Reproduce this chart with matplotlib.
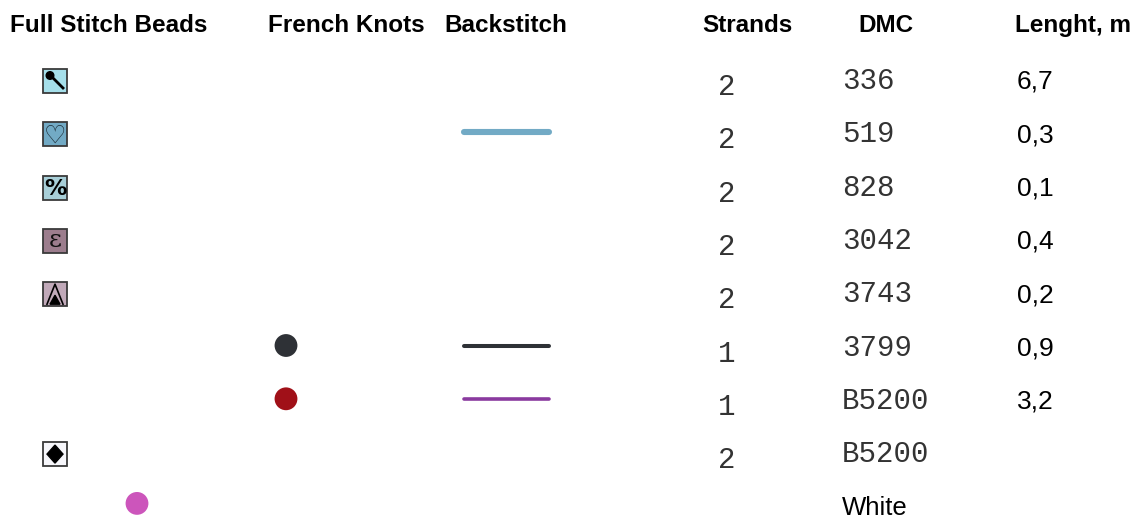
import matplotlib
matplotlib.use('Agg')
import matplotlib.pyplot as plt
from matplotlib.patches import Rectangle, Polygon, Circle

# ---- data ----
headers = ['Full Stitch Beads', 'French Knots', 'Backstitch', 'Strands', 'DMC', 'Lenght, m']
bead_colors = ['#a5dfea', '#72aac5', '#a8cfd8', '#9c7d8d', '#c1a9b9', None, None, '#f7f7fb', None]
bead_symbols = ['pin', 'heart', 'percent', 'epsilon', 'triangle', None, None, 'diamond', None]
seed_bead_colors = [None] * 8 + ['#cc55bb']
knot_colors = [None] * 5 + ['#2e3136', '#a01018', None, None]
backstitch_colors = [None, '#72aac5', None, None, None, '#2e3136', '#8a3a9f', None, None]
backstitch_widths = [0, 4.4, 0, 0, 0, 2.9, 2.6, 0, 0]
strands = ['2', '2', '2', '2', '2', '1', '1', '2', '']
dmc = ['336', '519', '828', '3042', '3743', '3799', 'B5200', 'B5200', 'White']
lengths = ['6,7', '0,3', '0,1', '0,4', '0,2', '0,9', '3,2', '', '']

W, H = 1138, 523
fig = plt.figure(figsize=(W / 100, H / 100), dpi=100)
ax = fig.add_axes([0, 0, 1, 1])
ax.set_xlim(0, W)
ax.set_ylim(H, 0)
ax.axis('off')

sans = 'Liberation Sans'
mono = 'Liberation Mono'

# header row
head_x = [10, 268, 444, 747, 886, 1015]
head_ha = ['left', 'left', 'left', 'center', 'center', 'left']
for hx, ha, label in zip(head_x, head_ha, headers):
    ax.text(hx, 32, label, ha=ha, va='baseline', fontsize=17.5,
            fontweight='bold', family=sans, color='black')

row_y = [81 + 53.3 * i for i in range(len(dmc))]
sq = 24
bead_x = 55

for y, col, sym in zip(row_y, bead_colors, bead_symbols):
    if col is None:
        continue
    ax.add_patch(Rectangle((bead_x - sq / 2, y - sq / 2), sq, sq, facecolor=col,
                           edgecolor='#3a3a3a', linewidth=1.3, zorder=2))
    if sym == 'pin':
        ax.plot([bead_x - 5, bead_x + 8], [y - 6, y + 7], color='black', lw=2.0, zorder=3)
        ax.add_patch(Circle((bead_x - 5, y - 5.5), 3.8, color='black', zorder=3))
    elif sym == 'heart':
        ax.text(bead_x, y + 1, '\u2661', ha='center', va='center', fontsize=18,
                family='DejaVu Sans', color='#1a2a33', zorder=3)
    elif sym == 'percent':
        ax.text(bead_x, y + 1, '%', ha='center', va='center', fontsize=16,
                fontweight='bold', family='DejaVu Sans', color='black', zorder=3)
    elif sym == 'epsilon':
        ax.text(bead_x, y, '\u03b5', ha='center', va='center', fontsize=18,
                family='DejaVu Serif', color='#111111', zorder=3)
    elif sym == 'triangle':
        ax.plot([bead_x - 8, bead_x, bead_x + 8], [y + 10, y - 10, y + 10],
                color='black', lw=1.2, zorder=3)
        ax.add_patch(Polygon([[bead_x - 5, y + 10], [bead_x, y + 1], [bead_x + 5, y + 10]],
                             closed=True, color='black', zorder=3))
    elif sym == 'diamond':
        ax.add_patch(Polygon([[bead_x, y - 9], [bead_x + 8, y], [bead_x, y + 9], [bead_x - 8, y]],
                             closed=True, color='black', zorder=3))

# seed bead (pink dot)
for y, col in zip(row_y, seed_bead_colors):
    if col is not None:
        ax.scatter([137], [y - 4], s=270, color=col, edgecolors='none', zorder=3)

# french knots
for y, col in zip(row_y, knot_colors):
    if col is not None:
        ax.scatter([286], [y - 2], s=270, color=col, edgecolors='none', zorder=3)

# backstitch lines
for y, col, lw in zip(row_y, backstitch_colors, backstitch_widths):
    if col is not None:
        ax.plot([464, 549], [y - 2, y - 2], color=col, lw=lw,
                solid_capstyle='round', zorder=3)

# text columns
for y, s, d, l in zip(row_y, strands, dmc, lengths):
    if s:
        ax.text(727, y + 14, s, ha='center', va='baseline', fontsize=21,
                family=mono, color='#333333')
    if d == 'White':
        ax.text(842, y + 8, d, ha='left', va='baseline', fontsize=18.5,
                family=sans, color='black')
    else:
        ax.text(842, y + 8, d, ha='left', va='baseline', fontsize=21,
                family=mono, color='#333333')
    if l:
        ax.text(1017, y + 8, l, ha='left', va='baseline', fontsize=19,
                family=sans, color='black')

fig.savefig('out.png', dpi=100, facecolor='white')
